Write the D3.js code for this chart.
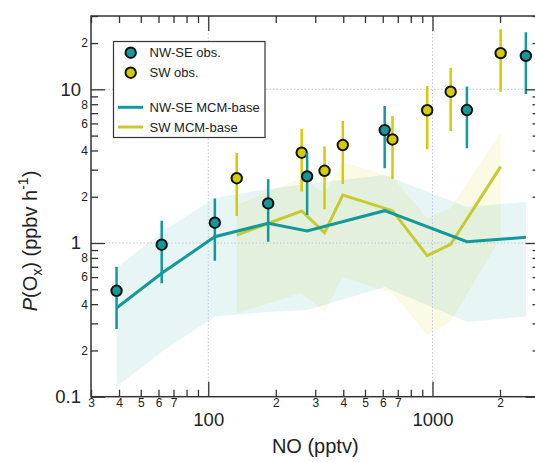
<!DOCTYPE html>
<html><head><meta charset="utf-8">
<script src="https://cdn.jsdelivr.net/npm/d3@7"></script>
<style>body{margin:0;background:#fff}svg{display:block}text{font-family:"Liberation Sans",Arial,sans-serif;fill:#222}</style>
</head><body><svg id="c" width="535" height="462"></svg>
<script>
// ---- data ----
const nwNO      = [39, 62, 107, 185, 276, 612, 1424, 2608];
const nwObs     = [0.489, 0.975, 1.355, 1.81, 2.715, 5.43, 7.33, 16.5];
const nwObsLo   = [0.276, 0.547, 0.767, 1.02, 1.52, 3.06, 4.13, 9.34];
const nwObsHi   = [0.701, 1.397, 1.95, 2.595, 3.87, 7.79, 10.42, 23.5];
const nwModel   = [0.378, 0.635, 1.099, 1.343, 1.197, 1.623, 1.02, 1.089];
const nwModelLo = [0.116, 0.196, 0.333, 0.356, 0.367, 0.518, 0.306, 0.333];
const nwModelHi = [0.688, 1.179, 1.96, 2.25, 2.42, 2.77, 1.715, 1.85];

const swNO      = [134, 261, 330, 398, 663, 947, 1205, 2013];
const swObs     = [2.64, 3.87, 2.95, 4.34, 4.72, 7.31, 9.65, 17.2];
const swObsLo   = [1.50, 2.16, 1.66, 2.42, 2.61, 4.07, 5.35, 9.65];
const swObsHi   = [3.85, 5.54, 4.24, 6.22, 6.70, 10.5, 13.8, 24.6];
const swModel   = [1.127, 1.615, 1.167, 2.05, 1.623, 0.827, 0.981, 3.14];
const swModelLo = [0.35, 0.473, 0.356, 0.6, 0.473, 0.252, 0.306, 1.09];
const swModelHi = [1.77, 2.65, 2.11, 3.36, 2.69, 1.45, 1.69, 5.27];

const xMajorTicks = [100, 1000];
const xMinorTicks = [30,40,50,60,70,80,90,200,300,400,500,600,700,800,900,2000,3000];
const xMinorLabeled = [30,40,50,60,70,200,300,400,500,600,700,2000];
const yMajorTicks = [0.1, 1, 10];
const yMinorTicks = [0.2,0.3,0.4,0.5,0.6,0.7,0.8,0.9,2,3,4,5,6,7,8,9,20,30];
const yMinorLabeled = [0.2,0.4,0.6,0.8,2,4,6,8,20];
const legendLabels = ["NW-SE obs.", "SW obs.", "NW-SE MCM-base", "SW MCM-base"];

// ---- style ----
const teal = "#13999a", yellow = "#d3cd00", yellowLine = "#c8ca34";
const L = 91, R = 539.5, T = 16, B = 396.7;
const svg = d3.select("#c");
const x = d3.scaleLog().domain([30, 3000]).range([L, R]);
const y = d3.scaleLog().domain([0.1, 30]).range([B, T]);

svg.append("clipPath").attr("id","pc").append("rect").attr("x",L).attr("y",T).attr("width",R-L).attr("height",B-T);
const g = svg.append("g").attr("clip-path","url(#pc)");

// bands
const area = (xs, lo, hi) => d3.area().x((d,i)=>x(xs[i])).y0((d,i)=>y(lo[i])).y1((d,i)=>y(hi[i]))(xs);
g.append("path").attr("d", area(swNO, swModelLo, swModelHi)).attr("fill","rgb(210,210,0)").attr("fill-opacity",0.1);
g.append("path").attr("d", area(nwNO, nwModelLo, nwModelHi)).attr("fill","rgb(20,160,160)").attr("fill-opacity",0.1);

// grid
const grid = g.append("g").attr("stroke","#c4c4e4").attr("stroke-width",1).attr("stroke-dasharray","1.5,2");
xMajorTicks.forEach(v=>grid.append("line").attr("x1",x(v)).attr("x2",x(v)).attr("y1",T).attr("y2",B));
[1,10].forEach(v=>grid.append("line").attr("x1",L).attr("x2",R).attr("y1",y(v)).attr("y2",y(v)));

// model lines
const line = (xs, ys) => d3.line().x((d,i)=>x(xs[i])).y((d,i)=>y(ys[i]))(xs);
g.append("path").attr("d", line(swNO, swModel)).attr("fill","none").attr("stroke",yellowLine).attr("stroke-width",3);
g.append("path").attr("d", line(nwNO, nwModel)).attr("fill","none").attr("stroke",teal).attr("stroke-width",3);

// error bars + points
function obs(xs, v, lo, hi, col){
  g.append("g").selectAll("line").data(xs).join("line")
    .attr("x1",d=>x(d)).attr("x2",d=>x(d)).attr("y1",(d,i)=>y(lo[i])).attr("y2",(d,i)=>y(hi[i]))
    .attr("stroke",col).attr("stroke-width",2.5);
  g.append("g").selectAll("circle").data(xs).join("circle")
    .attr("cx",d=>x(d)).attr("cy",(d,i)=>y(v[i])).attr("r",5.2)
    .attr("fill",col).attr("stroke","#111").attr("stroke-width",2);
}
obs(swNO, swObs, swObsLo, swObsHi, yellow);
obs(nwNO, nwObs, nwObsLo, nwObsHi, teal);

// axes
const axColor = "#333";
function styleAx(sel, fs){
  sel.select(".domain").remove();
  sel.selectAll("line").attr("stroke",axColor).attr("stroke-width",1.3);
  sel.selectAll("text").attr("font-size",fs).attr("fill","#222").style("font-family","'Liberation Sans',Arial,sans-serif");
}
const fmtMinorX = v => xMinorLabeled.includes(v) ? String(Math.round(v/Math.pow(10,Math.floor(Math.log10(v)+1e-9)))) : "";
svg.append("g").attr("transform",`translate(0,${B})`)
  .call(d3.axisBottom(x).tickValues(xMinorTicks).tickSize(-7).tickPadding(2).tickFormat(fmtMinorX))
  .call(s=>styleAx(s,12));
svg.append("g").attr("transform",`translate(0,${B})`)
  .call(d3.axisBottom(x).tickValues(xMajorTicks).tickSize(-15).tickPadding(16).tickFormat(d3.format("d")))
  .call(s=>styleAx(s,18.5));
svg.append("g").attr("transform",`translate(0,${T})`)
  .call(d3.axisTop(x).tickValues(xMinorTicks).tickSize(-7).tickFormat(""))
  .call(s=>styleAx(s,12));
svg.append("g").attr("transform",`translate(0,${T})`)
  .call(d3.axisTop(x).tickValues(xMajorTicks).tickSize(-15).tickFormat(""))
  .call(s=>styleAx(s,12));

const fmtMinorY = v => yMinorLabeled.includes(v) ? String(Math.round(v/Math.pow(10,Math.floor(Math.log10(v)+1e-9)))) : "";
svg.append("g").attr("transform",`translate(${L},0)`)
  .call(d3.axisLeft(y).tickValues(yMinorTicks).tickSize(-7).tickPadding(3).tickFormat(fmtMinorY))
  .call(s=>styleAx(s,12));
svg.append("g").attr("transform",`translate(${L},0)`)
  .call(d3.axisLeft(y).tickValues(yMajorTicks).tickSize(-14).tickPadding(10).tickFormat(d=>d<1?"0.1":String(d)))
  .call(s=>styleAx(s,18.5));
svg.append("g").attr("transform",`translate(${R},0)`)
  .call(d3.axisRight(y).tickValues(yMinorTicks).tickSize(-7).tickFormat(""))
  .call(s=>styleAx(s,12));
svg.append("g").attr("transform",`translate(${R},0)`)
  .call(d3.axisRight(y).tickValues(yMajorTicks).tickSize(-14).tickFormat(""))
  .call(s=>styleAx(s,12));

svg.append("rect").attr("x",L).attr("y",T).attr("width",R-L).attr("height",B-T)
  .attr("fill","none").attr("stroke",axColor).attr("stroke-width",1.5);

// titles
svg.append("text").attr("x",(L+R)/2).attr("y",453).attr("text-anchor","middle").attr("font-size",20).text("NO (pptv)");
const yt = svg.append("text").attr("transform","translate(37,241) rotate(-90)").attr("text-anchor","middle").attr("font-size",20);
yt.append("tspan").attr("font-style","italic").text("P");
yt.append("tspan").text("(O");
yt.append("tspan").attr("font-size",14).attr("dy",5).text("x");
yt.append("tspan").attr("dy",-5).text(") (ppbv h");
yt.append("tspan").attr("font-size",14).attr("dy",-9).text("-1");
yt.append("tspan").attr("dy",9).text(")");

// legend
const lg = svg.append("g");
lg.append("rect").attr("x",113.5).attr("y",41.5).attr("width",151.5).attr("height",96).attr("fill","#fff").attr("stroke","#333").attr("stroke-width",1.2);
lg.append("circle").attr("cx",130.7).attr("cy",52.7).attr("r",5.2).attr("fill",teal).attr("stroke","#111").attr("stroke-width",2);
lg.append("circle").attr("cx",130.7).attr("cy",72.7).attr("r",5.2).attr("fill",yellow).attr("stroke","#111").attr("stroke-width",2);
lg.append("line").attr("x1",118).attr("x2",143).attr("y1",107.3).attr("y2",107.3).attr("stroke",teal).attr("stroke-width",3);
lg.append("line").attr("x1",118).attr("x2",143).attr("y1",127).attr("y2",127).attr("stroke",yellowLine).attr("stroke-width",3);
[57.3,77.3,112,131.7].forEach((yy,i)=>lg.append("text").attr("x",149.5).attr("y",yy).attr("font-size",13).text(legendLabels[i]));
</script></body></html>
